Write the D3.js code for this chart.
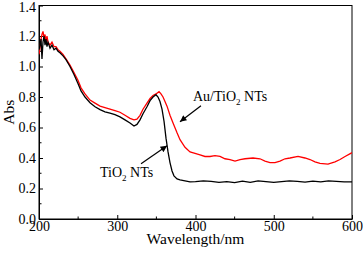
<!DOCTYPE html>
<html>
<head>
<meta charset="utf-8">
<script src="https://cdn.jsdelivr.net/npm/d3@7"></script>
<style>
  html, body { margin: 0; padding: 0; background: #fff; }
  svg, svg text { font-family: "Liberation Serif", "DejaVu Serif", serif; }
</style>
</head>
<body>
<svg id="chart" width="363" height="255"></svg>
<script>
// ---- data ----
const xTicks = [200, 300, 400, 500, 600];
const yTicks = [0.0, 0.2, 0.4, 0.6, 0.8, 1.0, 1.2, 1.4];

const tio2Wl = [200, 201.3, 202.6, 203.8, 205.1, 206.4, 207.7, 208.9, 210.2, 211.5, 214.1, 216.6, 219.2, 221.7, 224.3, 226.8, 230.7, 234.5, 239.6, 244.7, 249.8, 253.7, 258.8, 265.2, 271.6, 278, 284.3, 290.7, 297.1, 303.5, 309.9, 316.3, 321.4, 325.2, 329.1, 332.9, 338, 341.9, 345.7, 349.5, 352.1, 354.6, 357.2, 359.8, 362.3, 364.9, 367.4, 370, 372.5, 376.4, 380.2, 386.6, 393, 400, 410, 420, 430, 440, 450, 460, 470, 480, 490, 500, 510, 520, 530, 540, 550, 560, 570, 580, 590, 600];
const tio2Abs = [1.11, 1.14, 1.18, 1.05, 1.16, 1.20, 1.14, 1.18, 1.13, 1.16, 1.12, 1.14, 1.11, 1.12, 1.10, 1.09, 1.07, 1.045, 1.0, 0.947, 0.888, 0.84, 0.80, 0.762, 0.736, 0.717, 0.703, 0.695, 0.684, 0.67, 0.65, 0.63, 0.61, 0.62, 0.65, 0.69, 0.736, 0.776, 0.80, 0.815, 0.80, 0.77, 0.72, 0.64, 0.53, 0.44, 0.37, 0.315, 0.283, 0.263, 0.256, 0.25, 0.243, 0.245, 0.25, 0.247, 0.24, 0.245, 0.238, 0.248, 0.24, 0.25, 0.245, 0.24, 0.245, 0.25, 0.247, 0.242, 0.248, 0.244, 0.25, 0.247, 0.243, 0.243];

const auWl = [200, 201.3, 202.6, 203.8, 205.1, 206.4, 207.7, 208.9, 210.2, 211.5, 214.1, 216.6, 219.2, 221.7, 224.3, 226.8, 230.7, 234.5, 239.6, 244.7, 249.8, 253.7, 258.8, 265.2, 271.6, 278, 284.3, 290.7, 297.1, 303.5, 309.9, 316.3, 321.4, 325.2, 329.1, 332.9, 338, 341.9, 345.7, 349.5, 353.4, 355.9, 358.5, 361, 363.6, 367.4, 371.3, 376.4, 380.2, 386.6, 393, 399.4, 405.8, 412.1, 418.5, 424.9, 431.3, 437.7, 444.1, 450.5, 456.9, 463.3, 473.5, 482.4, 488.8, 495.2, 501.6, 508, 514.4, 520.8, 531, 539.9, 546.3, 552.7, 559.1, 569.3, 578.3, 584.7, 591.1, 600];
const auAbs = [1.08, 1.12, 1.18, 1.21, 1.23, 1.19, 1.21, 1.16, 1.20, 1.16, 1.14, 1.16, 1.13, 1.13, 1.11, 1.10, 1.08, 1.05, 1.01, 0.96, 0.91, 0.86, 0.82, 0.78, 0.76, 0.74, 0.73, 0.72, 0.71, 0.70, 0.68, 0.66, 0.65, 0.655, 0.68, 0.72, 0.76, 0.79, 0.81, 0.82, 0.835, 0.82, 0.80, 0.77, 0.74, 0.68, 0.63, 0.565, 0.52, 0.47, 0.44, 0.43, 0.42, 0.41, 0.41, 0.415, 0.41, 0.395, 0.39, 0.38, 0.39, 0.395, 0.40, 0.395, 0.38, 0.37, 0.37, 0.38, 0.395, 0.40, 0.41, 0.40, 0.39, 0.375, 0.365, 0.36, 0.375, 0.39, 0.41, 0.435];

const labelAu = "Au/TiO";
const labelTi = "TiO";

// ---- layout ----
const FONT = "'Liberation Serif', 'DejaVu Serif', serif";
const W = 363, H = 255;
const m = { left: 39, right: 11, top: 5.5, bottom: 36 };
const svg = d3.select("#chart");

const x = d3.scaleLinear().domain([200, 600]).range([m.left, W - m.right]);
const y = d3.scaleLinear().domain([0, 1.4]).range([H - m.bottom, m.top]);

// minor ticks
const xMinor = d3.range(250, 600, 100);
const yMinor = d3.range(0.1, 1.4, 0.2);

svg.append("g").selectAll("line").data(xMinor).join("line")
  .attr("x1", d => x(d)).attr("x2", d => x(d))
  .attr("y1", y(0)).attr("y2", y(0) - 2.5)
  .attr("stroke", "#000").attr("stroke-width", 1);
svg.append("g").selectAll("line").data(yMinor).join("line")
  .attr("y1", d => y(d)).attr("y2", d => y(d))
  .attr("x1", x(200)).attr("x2", x(200) + 2.5)
  .attr("stroke", "#000").attr("stroke-width", 1);

const xAxis = svg.append("g")
  .attr("transform", `translate(0,${y(0)})`)
  .call(d3.axisBottom(x).tickValues(xTicks).tickFormat(d3.format("d")).tickSizeInner(-4).tickSizeOuter(0).tickPadding(2));
const yAxis = svg.append("g")
  .attr("transform", `translate(${x(200)},0)`)
  .call(d3.axisLeft(y).tickValues(yTicks).tickFormat(d3.format(".1f")).tickSizeInner(-4).tickSizeOuter(0).tickPadding(3));

[xAxis, yAxis].forEach(g => {
  g.attr("font-family", FONT);
  g.selectAll("text").attr("font-size", 14).attr("fill", "#000").style("font-family", FONT);
  g.selectAll("line").attr("stroke", "#000");
  g.select(".domain").attr("stroke", "#000");
});
yAxis.selectAll(".tick").filter(d => d === 1.4).select("text").attr("dy", "0.42em");

// frame
svg.append("rect")
  .attr("x", x(200)).attr("y", y(1.4))
  .attr("width", x(600) - x(200)).attr("height", y(0) - y(1.4))
  .attr("fill", "none").attr("stroke", "#000").attr("stroke-width", 1);

// lines
const line = d3.line().x(d => x(d[0])).y(d => y(d[1]));
svg.append("clipPath").attr("id", "clip").append("rect")
  .attr("x", x(200)).attr("y", y(1.4)).attr("width", x(600) - x(200)).attr("height", y(0) - y(1.4));

svg.append("path").datum(d3.zip(auWl, auAbs))
  .attr("d", line).attr("fill", "none").attr("stroke", "#ff0000").attr("stroke-width", 1.3)
  .attr("clip-path", "url(#clip)");
svg.append("path").datum(d3.zip(tio2Wl, tio2Abs))
  .attr("d", line).attr("fill", "none").attr("stroke", "#000").attr("stroke-width", 1.3)
  .attr("clip-path", "url(#clip)");

// axis titles
svg.append("text").attr("x", (x(200) + x(600)) / 2).attr("y", 243.5)
  .attr("text-anchor", "middle").attr("font-size", 15.5).style("font-family", FONT).text("Wavelength/nm");
svg.append("text").attr("transform", `translate(14,${(y(0) + y(1.4)) / 2}) rotate(-90)`)
  .attr("text-anchor", "middle").attr("font-size", 15.5).style("font-family", FONT).text("Abs");

// arrow marker
svg.append("defs").append("marker").attr("id", "arr")
  .attr("viewBox", "0 0 10 10").attr("refX", 10).attr("refY", 5)
  .attr("markerWidth", 8).attr("markerHeight", 6.5).attr("markerUnits", "userSpaceOnUse")
  .attr("orient", "auto")
  .append("path").attr("d", "M0,0 L10,5 L0,10 Z").attr("fill", "#000");

function label(str, wl, ab) {
  const t = svg.append("text").attr("x", x(wl)).attr("y", y(ab)).attr("font-size", 14).style("font-family", FONT);
  t.append("tspan").text(str);
  t.append("tspan").attr("font-size", 9).attr("dy", 4).text("2");
  t.append("tspan").attr("dy", -4).text(" NTs");
}
label(labelAu, 396.8, 0.776);
label(labelTi, 278, 0.276);

function arrow(w1, a1, w2, a2) {
  svg.append("line").attr("x1", x(w1)).attr("y1", y(a1)).attr("x2", x(w2)).attr("y2", y(a2))
    .attr("stroke", "#000").attr("stroke-width", 1.2).attr("marker-end", "url(#arr)");
}
arrow(407, 0.743, 380.2, 0.638);
arrow(330.4, 0.362, 363.6, 0.48);
</script>
</body>
</html>
